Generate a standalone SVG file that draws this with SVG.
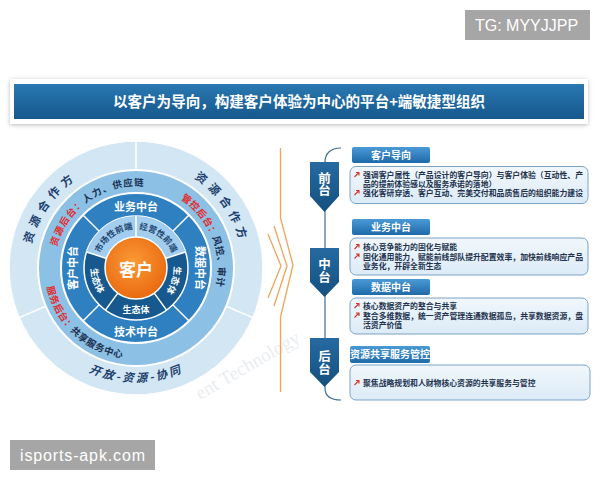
<svg xmlns="http://www.w3.org/2000/svg" width="600" height="480" viewBox="0 0 600 480">
<defs>
<style>
.cj{font-family:"Noto Sans CJK SC","Noto Sans",sans-serif;font-weight:bold}
.rt{fill:#fff;font-size:11px;text-anchor:middle}
.r3{fill:#1e4670;font-size:8.5px}
.r3d{fill:#fff;font-size:9px}
.r5{fill:#1a2f50;font-size:9.5px}
.red{fill:#e32b2b}
.outer{fill:#1d3f6e;font-size:11.5px}
.dv{stroke:#fff;stroke-width:1.5}
.hdr{fill:url(#gHdr)}
.hdrt{fill:#fff;font-size:10px;text-anchor:middle}
.box{fill:url(#gBox);stroke:#7aa3c6;stroke-width:1}
.bt{fill:#22324d;font-size:7.85px}
.pent{fill:url(#gPent)}
.pt{fill:#fff;font-size:12.5px;text-anchor:middle}
.org{fill:none;stroke:#f2a35a;stroke-width:1.3}
.wm{fill:#a6a6a6}
.wmt{fill:#fff;font-family:"Liberation Sans",Arial,sans-serif;font-size:16px}
</style>
<linearGradient id="gTitle" x1="0" y1="0" x2="0" y2="1"><stop offset="0" stop-color="#2a78b2"/><stop offset="1" stop-color="#15588c"/></linearGradient>
<linearGradient id="gHdr" x1="0" y1="0" x2="0" y2="1"><stop offset="0" stop-color="#4a9ad6"/><stop offset="1" stop-color="#1f6aa8"/></linearGradient>
<linearGradient id="gBox" x1="0" y1="0" x2="0" y2="1"><stop offset="0" stop-color="#f1f7fc"/><stop offset="1" stop-color="#dcebf7"/></linearGradient>
<linearGradient id="gPent" x1="0" y1="0" x2="0" y2="1"><stop offset="0" stop-color="#256aa1"/><stop offset="1" stop-color="#15507f"/></linearGradient>
<radialGradient id="gOrg" cx="0.45" cy="0.4" r="0.65"><stop offset="0" stop-color="#fb9a36"/><stop offset="1" stop-color="#e8660d"/></radialGradient>
<filter id="sh" x="-5%" y="-30%" width="110%" height="160%"><feDropShadow dx="0" dy="1" stdDeviation="2" flood-color="#8a8a8a" flood-opacity="0.6"/></filter>
<g id="bul"><path d="M0.5 5.5 L5 1 M2 1 H5 V4" fill="none" stroke="#d8352a" stroke-width="1.1"/></g>
<path id="pR3a" d="M 98.91 255.95 A 39 39 0 0 1 136 229"/>
<path id="pR3b" d="M 136 229 A 39 39 0 0 1 173.09 255.95"/>
<path id="pR3c" d="M 172.14 256.26 A 38 38 0 0 1 158.34 298.74"/>
<path id="pR3d" d="M 93.20 254.09 A 45 45 0 0 0 109.55 304.41"/>
<path id="pR5a" d="M 56.79 246.78 A 82 82 0 0 1 150.24 187.25"/>
<path id="pR5b" d="M 180.66 199.23 A 82 82 0 0 1 216.21 285.05"/>
<path id="pR5c" d="M 46.99 286.92 A 91 91 0 0 0 128.07 358.65"/>
<path id="pO1" d="M 31.34 245.75 A 107 107 0 0 1 79.30 177.26"/>
<path id="pO2" d="M 192.70 177.26 A 107 107 0 0 1 240.66 245.75"/>
<path id="pO3" d="M 70.61 361.38 A 114 114 0 0 0 201.39 361.38"/>
</defs>

<rect width="600" height="480" fill="#fff"/>

<!-- watermark -->
<text x="200" y="400" transform="rotate(-30 200 400)" font-family="Liberation Serif,serif" font-size="19" fill="#eaedf1">ent Technology</text>

<!-- title -->
<g id="title">
<rect x="10" y="79" width="578" height="45" fill="#fff" filter="url(#sh)"/>
<rect x="14" y="84" width="570" height="35" fill="url(#gTitle)"/>
<text class="cj" x="299" y="106.5" font-size="14.5" fill="#fff" text-anchor="middle" textLength="372" lengthAdjust="spacingAndGlyphs">以客户为导向，构建客户体验为中心的平台+端敏捷型组织</text>
</g>

<!-- circle diagram -->
<g id="circle">
<circle cx="136" cy="268" r="127" fill="#d2e6f4" stroke="#fff" stroke-width="1.5"/>
<circle cx="136" cy="268" r="98" fill="#8cc0e5" stroke="#fff" stroke-width="2"/>
<circle cx="136" cy="268" r="75" fill="#2f80c0" stroke="#fff" stroke-width="2"/>
<circle cx="136" cy="268" r="52" fill="#17598e" stroke="#fff" stroke-width="1.5"/>
<path d="M 86.54 251.93 A 52 52 0 0 1 185.46 251.93 L 165.48 258.42 A 31 31 0 0 0 106.52 258.42 Z" fill="#a3cdee"/>
<circle cx="136" cy="268" r="31" fill="url(#gOrg)" stroke="#fff" stroke-width="1.5"/>
<g class="dv">
<line x1="136" y1="170" x2="136" y2="141"/>
<line x1="226.21" y1="306.29" x2="252.90" y2="317.62"/>
<line x1="45.79" y1="306.29" x2="19.10" y2="317.62"/>
<line x1="172.77" y1="231.23" x2="189.03" y2="214.97"/>
<line x1="99.23" y1="231.23" x2="82.97" y2="214.97"/>
<line x1="99.23" y1="304.77" x2="82.97" y2="321.03"/>
<line x1="172.77" y1="304.77" x2="189.03" y2="321.03"/>
<line x1="136" y1="237" x2="136" y2="216"/>
<line x1="165.48" y1="258.42" x2="185.46" y2="251.93"/>
<line x1="106.52" y1="258.42" x2="86.54" y2="251.93"/>
<line x1="117.78" y1="293.08" x2="105.43" y2="310.07"/>
<line x1="154.22" y1="293.08" x2="166.57" y2="310.07"/>
</g>
<text class="cj" x="136" y="276" font-size="17" fill="#fff" text-anchor="middle">客户</text>
<text class="cj r3"><textPath href="#pR3a" startOffset="50%" text-anchor="middle">市场性前端</textPath></text>
<text class="cj r3"><textPath href="#pR3b" startOffset="50%" text-anchor="middle">经营性前端</textPath></text>
<text class="cj r3d"><textPath href="#pR3c" startOffset="50%" text-anchor="middle">生态体</textPath></text>
<text class="cj r3d"><textPath href="#pR3d" startOffset="50%" text-anchor="middle">生态体</textPath></text>
<text class="cj r3d" x="136" y="312.5" text-anchor="middle">生态体</text>
<text class="cj rt" x="136" y="211">业务中台</text>
<text class="cj rt" x="136" y="336">技术中台</text>
<text class="cj rt" x="72.5" y="268" transform="rotate(-90 72.5 268)" dy="4">客户中台</text>
<text class="cj rt" x="199.5" y="268" transform="rotate(90 199.5 268)" dy="4">数据中台</text>
<text class="cj r5" letter-spacing="1"><textPath href="#pR5a"><tspan class="red">资源后台：</tspan>人力、供应链</textPath></text>
<text class="cj r5" letter-spacing="0.5"><textPath href="#pR5b"><tspan class="red">管控后台：</tspan>风控、审计</textPath></text>
<text class="cj r5" letter-spacing="0.5"><textPath href="#pR5c"><tspan class="red">服务后台：</tspan>共享服务中心</textPath></text>
<text class="cj outer" letter-spacing="5"><textPath href="#pO1" startOffset="50%" text-anchor="middle">资源合作方</textPath></text>
<text class="cj outer" letter-spacing="5"><textPath href="#pO2" startOffset="50%" text-anchor="middle">资源合作方</textPath></text>
<text class="cj outer" font-style="italic" font-size="12" letter-spacing="2.5"><textPath href="#pO3" startOffset="50%" text-anchor="middle">开放-资源-协同</textPath></text>
</g>

<!-- connectors -->
<g id="connectors">
<path class="org" d="M 280.5 148 V 218 L 293 265 L 280.5 317 V 392"/>
<path class="org" d="M 274 226 L 287 266 L 274 306"/>
<path class="org" d="M 268 234 L 281 266 L 268 298"/>
<path d="M 341 148 C 330 148 325 154 325 162 L 325 388 C 325 396 330 400 341 400" fill="none" stroke="#3f6e98" stroke-width="1.2"/>
</g>

<g id="front">
<path class="pent" d="M310 162 H339 V196 L324.5 212 L310 196 Z"/>
<text class="cj pt" x="324.5" y="182.5">前</text>
<text class="cj pt" x="324.5" y="195">台</text>
</g>
<g id="middle">
<path class="pent" d="M310 248 H339 V282 L324.5 297 L310 282 Z"/>
<text class="cj pt" x="324.5" y="269">中</text>
<text class="cj pt" x="324.5" y="281.5">台</text>
</g>
<g id="back">
<path class="pent" d="M310 338 H339 V372 L324.5 387 L310 372 Z"/>
<text class="cj pt" x="324.5" y="361">后</text>
<text class="cj pt" x="324.5" y="373.5">台</text>
</g>

<g id="sec-customer">
<rect class="hdr" x="352" y="147" width="78" height="16" rx="2"/>
<text class="cj hdrt" x="391" y="158.5">客户导向</text>
<rect class="box" x="350" y="166.5" width="238" height="37" rx="6"/>
<use href="#bul" x="354" y="171.5"/>
<text class="cj bt" x="363" y="178" textLength="220" lengthAdjust="spacingAndGlyphs">强调客户属性（产品设计的客户导向）与客户体验（互动性、产</text>
<text class="cj bt" x="363" y="187">品的提前体验感以及服务承诺的落地）</text>
<use href="#bul" x="354" y="189.5"/>
<text class="cj bt" x="363" y="196" textLength="220" lengthAdjust="spacingAndGlyphs">强化客研穿透、客户互动、完美交付和品质售后的组织能力建设</text>
</g>

<g id="sec-business">
<rect class="hdr" x="352" y="219" width="78" height="16" rx="2"/>
<text class="cj hdrt" x="391" y="230.5">业务中台</text>
<rect class="box" x="350" y="238" width="238" height="37" rx="6"/>
<use href="#bul" x="354" y="243.5"/>
<text class="cj bt" x="363" y="250">核心竞争能力的固化与赋能</text>
<use href="#bul" x="354" y="253"/>
<text class="cj bt" x="363" y="259.5" textLength="220" lengthAdjust="spacingAndGlyphs">固化通用能力，赋能前线部队提升配置效率，加快前线响应产品</text>
<text class="cj bt" x="363" y="269">业务化，开辟全新生态</text>
</g>

<g id="sec-data">
<rect class="hdr" x="352" y="279" width="78" height="16" rx="2"/>
<text class="cj hdrt" x="391" y="290.5">数据中台</text>
<rect class="box" x="350" y="298" width="238" height="36" rx="6"/>
<use href="#bul" x="354" y="302.5"/>
<text class="cj bt" x="363" y="309">核心数据资产的整合与共享</text>
<use href="#bul" x="354" y="312"/>
<text class="cj bt" x="363" y="318.5" textLength="220" lengthAdjust="spacingAndGlyphs">整合多维数据，统一资产管理连通数据孤岛，共享数据资源，盘</text>
<text class="cj bt" x="363" y="328">活资产价值</text>
</g>

<g id="sec-shared">
<rect class="hdr" x="350" y="346" width="80" height="17" rx="2"/>
<text class="cj hdrt" x="390" y="358">资源共享服务管控</text>
<rect class="box" x="350" y="365" width="240" height="35" rx="6"/>
<use href="#bul" x="354" y="379.5"/>
<text class="cj bt" x="363" y="386">聚焦战略规划和人财物核心资源的共享服务与管控</text>
</g>

<g id="wm-tg">
<rect class="wm" x="465" y="10" width="125" height="30"/>
<text class="wmt" x="475" y="31">TG: MYYJJPP</text>
</g>
<g id="wm-site">
<rect class="wm" x="10" y="440" width="145" height="30"/>
<text class="wmt" x="20" y="461" textLength="125">isports-apk.com</text>
</g>
</svg>
